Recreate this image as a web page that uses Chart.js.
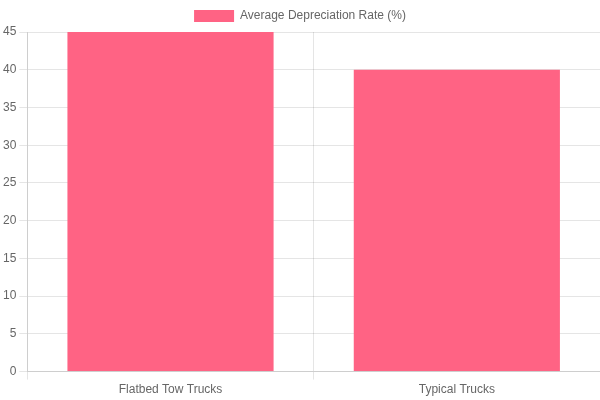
<!DOCTYPE html>
<html>
<head>
<meta charset="utf-8">
<script src="https://cdn.jsdelivr.net/npm/chart.js@4"></script>
<style>
  html, body { margin: 0; padding: 0; background: #fff; }
  #wrap { width: 600px; height: 400px; }
</style>
</head>
<body>
<div id="wrap"><canvas id="depreciationChart"></canvas></div>
<script>
const CATEGORIES = ["Flatbed Tow Trucks", "Typical Trucks"];
const DEPRECIATION_RATES = [45, 40];
const SERIES_LABEL = "Average Depreciation Rate (%)";

const ctx = document.getElementById("depreciationChart");

new Chart(ctx, {
  type: "bar",
  data: {
    labels: CATEGORIES,
    datasets: [
      {
        label: SERIES_LABEL,
        data: DEPRECIATION_RATES,
        backgroundColor: "rgb(255, 99, 132)",
        borderWidth: 0,
      },
    ],
  },
  options: {
    responsive: true,
    maintainAspectRatio: false,
    animation: false,
    plugins: {
      legend: { display: true, position: "top" },
    },
    scales: {
      y: {
        beginAtZero: true,
        ticks: { stepSize: 5 },
      },
    },
  },
});
</script>
</body>
</html>
